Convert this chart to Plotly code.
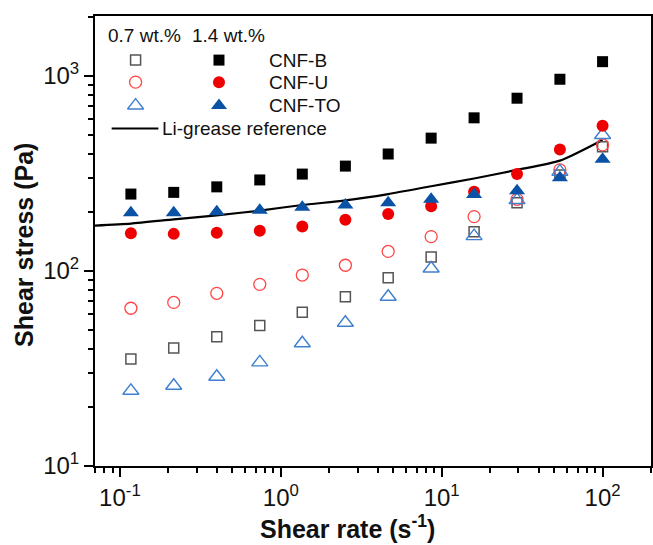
import numpy as np
import plotly.graph_objects as go

# ---- data ----
shear_rate = [0.117, 0.216, 0.40, 0.74, 1.36, 2.52, 4.65, 8.6, 15.9, 29.4, 54.3, 100]

cnfb_07 = [35.4, 40.3, 46, 52.6, 61.4, 73.8, 92.4, 118, 159, 224, 311, 434]
cnfb_14 = [248, 253, 270, 293, 314, 345, 398, 480, 610, 769, 962, 1184]
cnfu_07 = [64.4, 69, 76.8, 85.4, 95.3, 107, 126, 150, 190, 233, 330, 443]
cnfu_14 = [156, 155, 157, 161, 169, 183, 196, 215, 255, 314, 420, 556]
cnfto_07 = [24.3, 25.8, 28.7, 34, 42.6, 54.3, 73.8, 103, 151, 231, 323, 498]
cnfto_14 = [199, 199, 201, 205, 212, 218, 224, 233, 247, 258, 301, 374]

li_rate = [0.07, 0.117, 0.216, 0.40, 0.74, 1.36, 2.52, 4.65, 8.6, 15.9, 29.4, 54.3, 100]
li_stress = [171, 175, 184, 193, 204, 218, 230, 248, 272, 298, 330, 368, 470]

x_ticks = [0.1, 1, 10, 100]
x_ticktext = ["10<sup>-1</sup>", "10<sup>0</sup>", "10<sup>1</sup>", "10<sup>2</sup>"]
y_ticks = [10, 100, 1000]
y_ticktext = ["10<sup>1</sup>", "10<sup>2</sup>", "10<sup>3</sup>"]

series_names = ["CNF-B", "CNF-U", "CNF-TO"]
header_07 = "0.7 wt.%"
header_14 = "1.4 wt.%"
li_name = "Li-grease reference"
x_title = "<b>Shear rate (s<sup>-1</sup>)</b>"
y_title = "<b>Shear stress (Pa)</b>"

# ---- styles ----
BLACK = "#000000"
GRAY = "#555555"
RED = "#EE0000"
RED_L = "#FF4545"
BLUE = "#0A52A5"
BLUE_L = "#3F80D0"
FONT = "Liberation Sans, Arial, sans-serif"
TXT = "#111111"

styles_open = [
    dict(symbol="square-open", size=10, color=GRAY, line=dict(width=1.5, color=GRAY)),
    dict(symbol="circle-open", size=12, color=RED_L, line=dict(width=1.3, color=RED_L)),
    dict(symbol="triangle-up-open", size=14, color=BLUE_L, line=dict(width=1.4, color=BLUE_L)),
]
styles_fill = [
    dict(symbol="square", size=11, color=BLACK),
    dict(symbol="circle", size=12, color=RED),
    dict(symbol="triangle-up", size=14, color=BLUE),
]

fig = go.Figure()

fig.add_trace(go.Scatter(x=li_rate, y=li_stress, mode="lines",
                         line=dict(color=BLACK, width=2.2, shape="spline", smoothing=0.6),
                         showlegend=False, cliponaxis=True))

open_data = [cnfb_07, cnfu_07, cnfto_07]
fill_data = [cnfb_14, cnfu_14, cnfto_14]
for d, s in zip(open_data, styles_open):
    fig.add_trace(go.Scatter(x=shear_rate, y=d, mode="markers", marker=s, showlegend=False))
for d, s in zip(fill_data, styles_fill):
    fig.add_trace(go.Scatter(x=shear_rate, y=d, mode="markers", marker=s, showlegend=False))

# ---- custom legend drawn on an overlay axis (0..1 in plot area) ----
leg_open_x = 0.073
leg_fill_x = 0.223
leg_text_x = 0.309
leg_rows_y = [0.902, 0.853, 0.801]
leg_line_y = 0.750
LEG_FONT = dict(family=FONT, size=19, color=TXT)
for i in range(3):
    fig.add_trace(go.Scatter(x=[leg_open_x], y=[leg_rows_y[i]], mode="markers",
                             marker=styles_open[i], xaxis="x2", yaxis="y2", showlegend=False))
    fig.add_trace(go.Scatter(x=[leg_fill_x], y=[leg_rows_y[i]], mode="markers",
                             marker=styles_fill[i], xaxis="x2", yaxis="y2", showlegend=False))
    fig.add_annotation(x=leg_text_x, y=leg_rows_y[i], xref="x2", yref="y2", text=series_names[i],
                       showarrow=False, xanchor="left", yanchor="middle", font=LEG_FONT)
fig.add_trace(go.Scatter(x=[0.030, 0.114], y=[leg_line_y, leg_line_y], mode="lines",
                         line=dict(color=BLACK, width=2.2), xaxis="x2", yaxis="y2", showlegend=False))
fig.add_annotation(x=0.116, y=leg_line_y, xref="x2", yref="y2", text=li_name, showarrow=False,
                   xanchor="left", yanchor="middle", font=LEG_FONT)
fig.add_annotation(x=0.020, y=0.956, xref="x2", yref="y2", text=header_07, showarrow=False,
                   xanchor="left", yanchor="middle", font=LEG_FONT)
fig.add_annotation(x=0.170, y=0.956, xref="x2", yref="y2", text=header_14, showarrow=False,
                   xanchor="left", yanchor="middle", font=LEG_FONT)

# ---- axis titles as annotations ----
TITLE_FONT = dict(family=FONT, size=25, color=TXT)
fig.add_annotation(x=0.455, y=-0.135, xref="paper", yref="paper", text=x_title, showarrow=False,
                   xanchor="center", yanchor="middle", font=TITLE_FONT)
fig.add_annotation(x=-0.128, y=0.491, xref="paper", yref="paper", text=y_title, showarrow=False,
                   textangle=-90, xanchor="center", yanchor="middle", font=TITLE_FONT)

minor_x = [m * 10.0 ** e for e in range(-2, 3) for m in range(2, 10)]
minor_y = [m * 10.0 ** e for e in range(1, 4) for m in range(2, 10)]

fig.update_layout(
    width=653, height=545,
    margin=dict(l=95, r=2, t=16, b=79),
    paper_bgcolor="white", plot_bgcolor="white",
    font=dict(family=FONT, color=TXT),
    xaxis=dict(type="log", range=[np.log10(0.07), np.log10(200)], automargin=False,
               tickvals=x_ticks, ticktext=x_ticktext,
               ticks="outside", ticklen=9, tickwidth=2, tickcolor=BLACK,
               minor=dict(tickvals=minor_x, ticks="outside", ticklen=5, tickwidth=1.5, tickcolor=BLACK, showgrid=False),
               showline=True, linewidth=2, linecolor=BLACK, mirror=True,
               showgrid=False, zeroline=False,
               tickfont=dict(family=FONT, size=24, color=TXT)),
    yaxis=dict(type="log", range=[1, np.log10(2030)], automargin=False,
               tickvals=y_ticks, ticktext=y_ticktext,
               ticks="outside", ticklen=9, tickwidth=2, tickcolor=BLACK,
               minor=dict(tickvals=minor_y, ticks="outside", ticklen=5, tickwidth=1.5, tickcolor=BLACK, showgrid=False),
               showline=True, linewidth=2, linecolor=BLACK, mirror=True,
               showgrid=False, zeroline=False,
               tickfont=dict(family=FONT, size=24, color=TXT)),
    xaxis2=dict(overlaying="x", range=[0, 1], visible=False, anchor="y2"),
    yaxis2=dict(overlaying="y", range=[0, 1], visible=False, anchor="x2"),
)

fig.write_html("out.html", config={"displayModeBar": False},
               post_script="document.body.style.margin='0';document.body.style.overflow='hidden';")
